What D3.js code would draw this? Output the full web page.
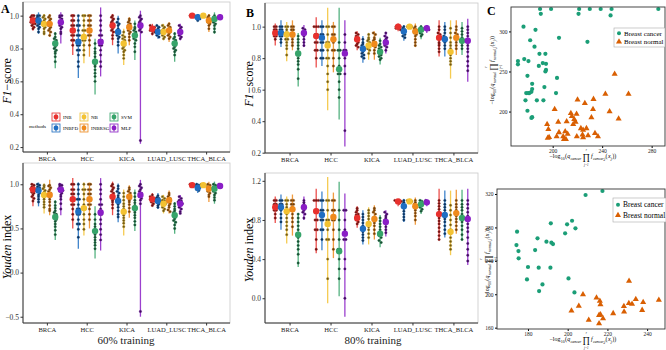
<!DOCTYPE html>
<html>
<head>
<meta charset="utf-8">
<script src="https://cdn.jsdelivr.net/npm/d3@7"></script>
<style>
  body { margin: 0; background: #fff; }
  svg { display: block; font-family: "Liberation Serif", "Times New Roman", serif; }
</style>
</head>
<body>
<div id="chart"></div>
<script>
// declare global values
const WIDTH = 666;
const HEIGHT = 350;

const categories = ["BRCA", "HCC", "KICA", "LUAD_LUSC", "THCA_BLCA"];
const methods = ["INB", "INBFD", "NB", "INBRSG", "SVM", "MLP"];
const methodColors = ["#e8302d", "#1f6ec2", "#f3c232", "#ef8a1c", "#36a46a", "#8a1ec6"];
const legendOrder = ["INB", "NB", "SVM", "INBFD", "INBRSG", "MLP"];

// ---- panel A top: F1-score, 60% training ----
const f1_60_mean = [
  [0.97, 0.97, 0.95, 0.95, 0.83, 0.96],
  [0.91, 0.84, 0.87, 0.91, 0.72, 0.84],
  [0.94, 0.90, 0.83, 0.93, 0.88, 0.94],
  [0.92, 0.90, 0.90, 0.91, 0.83, 0.90],
  [1.00, 0.99, 1.00, 0.97, 0.98, 0.99]
];
const f1_60_lo = [
  [0.91, 0.89, 0.88, 0.87, 0.68, 0.83],
  [0.76, 0.62, 0.71, 0.75, 0.52, 0.63],
  [0.82, 0.77, 0.70, 0.82, 0.73, 0.22],
  [0.88, 0.86, 0.85, 0.84, 0.72, 0.85],
  [0.995, 0.97, 0.995, 0.90, 0.89, 0.98]
];
const f1_60_hi = [
  [1.01, 1.02, 1.01, 1.01, 0.90, 1.02],
  [1.01, 1.00, 1.01, 1.01, 0.86, 1.05],
  [1.01, 1.00, 0.92, 0.99, 0.97, 1.03],
  [0.95, 0.94, 0.95, 0.96, 0.90, 0.95],
  [1.00, 1.01, 1.00, 1.01, 1.02, 1.00]
];
const f1_60_pts = [
  [[1,1,.99,.98,.98,.97,.97,.96,.95,.95,.94,.93,.92],
   [1,1,.99,.98,.97,.97,.96,.95,.94,.93,.92,.90],
   [1,.99,.98,.97,.96,.95,.95,.94,.93,.92,.90,.89],
   [1,.99,.98,.97,.96,.95,.94,.93,.92,.91,.90,.88],
   [.89,.87,.86,.85,.84,.83,.82,.81,.80,.79,.78,.77,.75,.72],
   [1,1,.99,.98,.97,.96,.95,.94,.93,.92,.90,.89]],
  [[1,1,.97,.97,.94,.94,.91,.91,.88,.88,.85,.85,.82],
   [1,.97,.94,.94,.91,.88,.88,.85,.85,.82,.82,.79,.79,.76,.72,.69],
   [1,1,.97,.94,.91,.91,.88,.85,.85,.82,.79,.76],
   [1,1,.97,.97,.94,.94,.91,.88,.88,.85,.82],
   [.83,.80,.78,.77,.75,.73,.72,.70,.69,.67,.65,.63,.60],
   [1,.97,.94,.91,.88,.88,.85,.85,.82,.82,.79,.76,.72,.69]],
  [[1,.99,.98,.97,.96,.95,.94,.93,.92,.91,.90,.88,.86],
   [.98,.96,.95,.94,.92,.91,.90,.89,.88,.87,.86,.84,.82],
   [.90,.88,.87,.86,.85,.84,.83,.82,.81,.80,.79,.78,.76,.74],
   [.98,.97,.96,.95,.94,.93,.92,.91,.90,.89,.87,.85],
   [.95,.93,.92,.91,.90,.89,.88,.87,.86,.85,.83,.81,.78],
   [1,.99,.98,.97,.96,.95,.94,.93,.92,.91,.90,.24]],
  [[.94,.93,.93,.92,.92,.91,.91,.90,.89],
   [.94,.93,.92,.91,.90,.90,.89,.88,.87],
   [.94,.93,.92,.91,.90,.89,.88,.87,.86],
   [.95,.94,.93,.92,.91,.90,.89,.88,.87,.86],
   [.89,.87,.86,.85,.84,.83,.82,.81,.80,.79,.78,.76],
   [.94,.93,.92,.91,.90,.89,.88,.87,.86]],
  [[1,1,1],
   [1,.99,.99,.98,.97],
   [1,1],
   [1,.99,.98,.97,.96,.95,.94,.92],
   [1,.99,.98,.97,.96,.95,.94,.92,.90],
   [1,.99,.99]]
];

// ---- panel A bottom: Youden index, 60% training ----
const yi_60_mean = [
  [0.94, 0.93, 0.88, 0.88, 0.63, 0.94],
  [0.83, 0.69, 0.73, 0.83, 0.47, 0.68],
  [0.86, 0.81, 0.69, 0.86, 0.73, 0.88],
  [0.83, 0.81, 0.78, 0.82, 0.65, 0.78],
  [0.99, 0.96, 0.99, 0.95, 0.95, 0.98]
];
const yi_60_lo = [
  [0.75, 0.75, 0.67, 0.65, 0.37, 0.65],
  [0.50, 0.27, 0.42, 0.50, 0.16, 0.25],
  [0.65, 0.57, 0.42, 0.62, 0.47, -0.50],
  [0.75, 0.72, 0.67, 0.67, 0.44, 0.67],
  [0.97, 0.90, 0.97, 0.80, 0.78, 0.96]
];
const yi_60_hi = [
  [1.01, 1.02, 1.01, 1.05, 0.82, 1.01],
  [1.07, 1.02, 1.02, 1.02, 0.75, 1.07],
  [1.03, 1.01, 0.94, 0.99, 0.94, 1.05],
  [0.90, 0.90, 0.88, 0.93, 0.80, 0.88],
  [1.00, 1.01, 1.00, 1.03, 1.03, 1.00]
];
const yi_60_pts = [
  [[1,.99,.97,.96,.95,.94,.93,.91,.90,.88,.86,.84,.81],
   [1,.99,.97,.96,.94,.93,.92,.90,.88,.86,.83,.80],
   [.99,.97,.95,.93,.91,.89,.87,.85,.83,.80,.77,.74],
   [.99,.98,.96,.94,.92,.90,.88,.86,.83,.80,.76,.72,.70],
   [.80,.76,.73,.70,.68,.66,.64,.62,.60,.58,.55,.52,.48,.43],
   [1,.99,.98,.96,.95,.94,.93,.92,.90,.88,.86,.83,.78,.72]],
  [[1,1,.94,.94,.89,.89,.83,.83,.77,.77,.72,.66,.60],
   [1,.94,.89,.83,.83,.77,.72,.72,.66,.66,.60,.55,.55,.49,.40],
   [1,.94,.94,.89,.83,.77,.72,.72,.66,.60,.55,.49],
   [1,1,.94,.94,.89,.89,.83,.77,.77,.72,.66,.60],
   [.66,.60,.55,.52,.49,.46,.43,.40,.37,.34,.31,.27],
   [1,.94,.89,.83,.77,.77,.72,.66,.66,.60,.55,.49,.43,.37]],
  [[1,.98,.96,.94,.92,.90,.88,.86,.84,.82,.80,.77,.73],
   [.98,.95,.92,.90,.87,.85,.82,.80,.77,.74,.70,.66,.63],
   [.90,.86,.82,.78,.75,.72,.70,.68,.65,.62,.59,.56,.52],
   [.96,.94,.92,.90,.88,.86,.84,.82,.80,.77,.73,.69],
   [.90,.86,.82,.79,.76,.74,.72,.70,.68,.65,.62,.58,.54],
   [1,.98,.96,.94,.92,.90,.88,.86,.84,.82,.78,-.44]],
  [[.88,.86,.85,.84,.83,.82,.81,.80,.78,.76],
   [.87,.85,.84,.83,.82,.81,.80,.78,.76,.74],
   [.86,.84,.82,.81,.80,.79,.78,.76,.74,.72,.70],
   [.90,.88,.86,.84,.83,.82,.80,.78,.76,.74,.71,.69],
   [.78,.75,.72,.70,.68,.66,.65,.63,.61,.59,.57,.54,.50],
   [.86,.84,.82,.81,.80,.79,.78,.76,.74,.72,.69,.67]],
  [[1,1,.99],
   [1,.99,.98,.97,.96,.94,.93],
   [1,1,.99],
   [1,.99,.97,.96,.94,.92,.90,.88,.86],
   [1,.99,.97,.96,.94,.92,.90,.88,.85,.82],
   [1,.99,.98,.97]]
];

// ---- panel B top: F1-score, 80% training ----
const f1_80_mean = [
  [0.96, 0.96, 0.95, 0.95, 0.83, 0.96],
  [0.94, 0.93, 0.88, 0.92, 0.73, 0.83],
  [0.92, 0.86, 0.88, 0.89, 0.84, 0.90],
  [1.00, 0.97, 1.00, 0.97, 0.98, 0.99],
  [0.93, 0.92, 0.84, 0.93, 0.91, 0.91]
];
const f1_80_lo = [
  [0.88, 0.87, 0.78, 0.85, 0.62, 0.87],
  [0.74, 0.75, 0.47, 0.71, 0.41, 0.24],
  [0.85, 0.77, 0.79, 0.79, 0.76, 0.83],
  [0.97, 0.91, 0.99, 0.87, 0.92, 0.96],
  [0.81, 0.81, 0.67, 0.82, 0.82, 0.65]
];
const f1_80_hi = [
  [1.02, 1.04, 1.03, 1.04, 0.96, 1.01],
  [1.06, 1.04, 1.12, 1.03, 1.12, 1.04],
  [0.97, 0.94, 0.96, 0.97, 0.93, 0.96],
  [1.02, 1.01, 1.01, 1.02, 1.01, 1.01],
  [1.04, 1.03, 1.04, 1.04, 1.03, 1.05]
];
const f1_80_pts = [
  [[1,1,.98,.98,.96,.96,.94,.94,.92],
   [1,1,.98,.98,.96,.96,.94,.94,.92,.90],
   [1,1,.98,.96,.96,.94,.92,.92,.90,.88,.86,.82],
   [1,1,.98,.98,.96,.94,.94,.92,.90,.88],
   [.94,.92,.90,.88,.86,.84,.82,.82,.80,.78,.76,.73,.67],
   [.99,.98,.96,.96,.94,.92,.90,.88]],
  [[1,1,1,.95,.95,.90,.90,.85,.85,.80],
   [1,1,.95,.95,.90,.90,.85,.85,.80,.80],
   [1,1,.95,.90,.90,.85,.80,.80,.75,.70,.65,.60],
   [1,1,.95,.95,.90,.85,.85,.80,.75],
   [.90,.85,.85,.80,.75,.70,.70,.65,.60,.55],
   [.95,.90,.85,.85,.80,.75,.70,.34]],
  [[.96,.95,.94,.93,.92,.91,.90,.89,.88,.87],
   [.92,.90,.89,.88,.87,.86,.85,.84,.83,.82,.81,.80],
   [.95,.93,.92,.91,.90,.89,.88,.87,.86,.85,.83],
   [.96,.95,.93,.92,.91,.90,.89,.88,.87,.85,.83],
   [.91,.89,.88,.87,.86,.85,.84,.83,.82,.81,.80,.79],
   [.96,.94,.93,.92,.91,.90,.89,.88,.87,.85]],
  [[1,1,1,.99,.99,.98],
   [1,.99,.98,.97,.96,.95,.94,.93],
   [1,1,1],
   [1,.99,.98,.97,.96,.95,.94,.92,.90,.88],
   [1,.99,.98,.97,.96,.95,.94],
   [1,.99,.98,.98]],
  [[1,.98,.96,.95,.94,.92,.90,.89,.88,.86,.84],
   [1,.98,.96,.94,.93,.92,.90,.88,.86],
   [.99,.96,.93,.90,.88,.86,.84,.82,.80,.78,.76],
   [1,.98,.96,.95,.94,.92,.90,.88,.86],
   [.99,.97,.95,.93,.92,.90,.88,.86],
   [1,.98,.96,.94,.92,.90,.88,.86,.84,.81,.78,.75,.72]]
];

// ---- panel B bottom: Youden index, 80% training ----
const yi_80_mean = [
  [0.93, 0.93, 0.89, 0.91, 0.65, 0.93],
  [0.89, 0.85, 0.76, 0.83, 0.48, 0.66],
  [0.82, 0.71, 0.76, 0.81, 0.66, 0.78],
  [0.99, 0.94, 0.99, 0.94, 0.96, 0.98],
  [0.86, 0.85, 0.68, 0.87, 0.82, 0.81]
];
const yi_80_lo = [
  [0.77, 0.70, 0.56, 0.64, 0.32, 0.80],
  [0.46, 0.49, -0.05, 0.41, 0.02, -0.19],
  [0.72, 0.55, 0.55, 0.60, 0.52, 0.63],
  [0.94, 0.78, 0.97, 0.75, 0.86, 0.94],
  [0.61, 0.62, 0.44, 0.66, 0.60, 0.34]
];
const yi_80_hi = [
  [1.04, 1.06, 1.04, 1.06, 0.87, 1.04],
  [1.12, 1.09, 1.24, 1.08, 1.19, 1.07],
  [0.94, 0.90, 0.93, 0.95, 0.85, 0.90],
  [1.01, 1.01, 1.01, 1.03, 1.01, 1.01],
  [1.12, 1.10, 1.10, 1.11, 1.11, 1.12]
];
const yi_80_pts = [
  [[1,1,.96,.96,.93,.90,.90,.86,.82],
   [1,1,.96,.96,.93,.90,.86,.82,.78],
   [1,1,.96,.93,.90,.86,.82,.78,.74,.70,.65],
   [1,1,.96,.96,.93,.90,.86,.82,.78,.73],
   [.86,.82,.78,.74,.70,.66,.62,.58,.54,.50,.45,.36],
   [1,.98,.96,.93,.90,.88,.86,.82]],
  [[1,1,1,.9,.9,.8,.8,.7,.7,.6,.5],
   [1,1,.9,.9,.8,.8,.7,.7,.6],
   [1,1,.9,.8,.8,.7,.6,.6,.4,.2],
   [1,1,.9,.9,.8,.8,.7,.6,.5],
   [.9,.8,.7,.6,.5,.5,.4,.3,.2],
   [.9,.9,.8,.7,.6,.6,.4,.3,0]],
  [[.92,.90,.88,.86,.85,.84,.82,.80,.78,.76],
   [.86,.83,.80,.77,.74,.71,.68,.65,.62,.59],
   [.90,.87,.84,.81,.78,.76,.73,.70,.66,.62],
   [.92,.90,.88,.86,.83,.80,.77,.74,.70,.66],
   [.82,.79,.76,.73,.70,.68,.66,.64,.62,.59,.57],
   [.88,.86,.84,.82,.80,.78,.76,.73,.70,.67]],
  [[1,1,1,.99,.98,.97],
   [1,.98,.96,.94,.92,.89,.86,.83,.80],
   [1,1,.99],
   [1,.98,.96,.94,.92,.90,.87,.84,.80],
   [1,.99,.97,.95,.93,.91,.89],
   [1,.99,.98,.97]],
  [[1,.97,.94,.91,.88,.85,.82,.79,.76,.72,.68,.64,.60],
   [1,.96,.93,.90,.87,.84,.81,.78,.74,.70,.66],
   [.95,.90,.85,.80,.75,.70,.66,.62,.58,.54,.50],
   [1,.96,.93,.90,.87,.84,.81,.78,.74,.70],
   [1,.96,.93,.90,.86,.82,.78,.74,.70,.65,.60],
   [1,.96,.92,.88,.84,.80,.76,.72,.68,.62,.56,.50,.44,.38]]
];

// ---- panel C: scatter of the two log scores ----
const c1_cancer = [
  [189.8,328],[190.4,322],[198.7,328],[221.4,328],[220.9,322],[230,328],[238.8,328],[247.6,328],[246.8,320],[285.4,328],
  [176.4,306],[186.1,302],[181.8,289],[205.1,292],[228.1,287],[185.3,281],[189.3,272],[194.1,272],[177,265.5],[180.4,263],
  [171.9,263],[171.9,259],[192,260.5],[194.6,259.6],[188.8,257],[194.6,252],[194.1,250],[179.6,244.6],[203.5,242],[183.4,234.6],
  [183.4,228],[193.3,230.5],[180.2,223],[178.6,223],[181.2,223],[182.8,224.6],[202.7,223],[187.2,214],[178,214],[192.5,214],
  [179.6,201],[183.4,193],[182.8,192]
];
const c1_normal = [
  [250.1,247],[261.3,222],[242.6,222],[233,215.5],[201.6,203],[220.1,214.6],[226,210.5],[232.6,203],[246,200],[253.3,191],
  [214.7,198],[219.3,197],[231.3,192.5],[195.5,184],[204.5,187],[211.3,187.5],[215.5,194],[217.4,190.5],[218.5,187],[216.6,184],
  [196.5,178],[205.1,174],[210.1,175],[212.1,172],[203.2,169],[208.5,169],[222.8,179],[224.6,177],[227.3,179],[234.2,173],
  [219.5,169],[224.1,171],[228.6,170],[236.6,169],[196,167],[197.1,168],[209.1,165.5],[210.7,165.5],[224.6,167.5]
];
const c2_cancer = [
  [217.5,323.6],[209,318.8],[174.5,274.9],[191.5,284.9],[199.7,283.7],[202.2,288],[203.9,278.9],[198.7,272.9],[174.2,258.9],[175.2,251.7],
  [175.3,243],[184.8,266.9],[183.6,252.9],[189.3,262.9],[191.8,261.7],[192.6,260.1],[180,232.6],[185.4,231.8],[191.3,231.8],[179.5,217.8],
  [200.4,219],[187.3,211.8],[185.6,203.8],[203.4,202.2]
];
const c2_normal = [
  [207.7,199.8],[214.5,195.8],[230.9,215.8],[201.9,180.2],[205.6,185.8],[216.2,191.8],[216.5,187.8],[215.8,175],[216.5,175.8],[217.8,171.1],
  [210.6,169.1],[215.8,165.1],[222.9,177.1],[228.3,185.5],[228.4,179],[230.8,189.1],[232.4,188.2],[234.3,193.9],[238,190.3],[237.5,181],
  [245.9,193]
];
const groupLabels = ["Breast cancer", "Breast normal"];
const groupColors = ["#1b9e77", "#d95f02"];

const svg = d3
  .select("#chart")
  .append("svg")
  .attr("width", WIDTH)
  .attr("height", HEIGHT);

// d3 axes put a sans-serif font on their group; drop it so the serif face is inherited
const serifAxis = (a, fs, col) => {
  a.attr("font-family", null).attr("font-size", null);
  a.selectAll(".tick text").attr("font-size", fs).attr("fill", col);
};

// draw one strip panel (points + range line + mean dot per method)
const drawStrip = (o) => {
  const g = svg.append("g");
  const x = d3.scalePoint().domain(categories).range([o.x0, o.x1]).padding(0.6);
  const y = d3.scaleLinear().domain(o.domain).range([o.y1, o.y0]);
  const dodge = x.step() * 0.14;

  // panel border
  g.append("rect")
    .attr("x", o.x0).attr("y", o.y0)
    .attr("width", o.x1 - o.x0).attr("height", o.y1 - o.y0)
    .attr("fill", "none").attr("stroke", "#c8c8c8").attr("stroke-width", 0.8);

  categories.forEach((c, ci) => {
    methods.forEach((m, mi) => {
      const cx = x(c) + (mi - 2.5) * dodge;
      const col = methodColors[mi];
      g.append("line")
        .attr("x1", cx).attr("x2", cx)
        .attr("y1", y(o.lo[ci][mi])).attr("y2", y(o.hi[ci][mi]))
        .attr("stroke", col).attr("stroke-opacity", 0.85).attr("stroke-width", 1.3);

      // dot-plot style: stack points falling in the same pixel bin
      const bins = d3.group(o.pts[ci][mi], (v) => Math.round(y(v) / 2.6));
      const dark = d3.interpolateRgb(col, "#000")(0.55);
      bins.forEach((vals) => {
        vals.forEach((v, k) => {
          g.append("circle")
            .attr("cx", cx + (k - (vals.length - 1) / 2) * 2.2)
            .attr("cy", y(v))
            .attr("r", 1.2)
            .attr("fill", dark)
            .attr("stroke", d3.interpolateRgb(col, "#000")(0.25))
            .attr("stroke-width", 0.4);
        });
      });
    });
  });
  // mean dots on top
  categories.forEach((c, ci) => {
    methods.forEach((m, mi) => {
      g.append("circle")
        .attr("cx", x(c) + (mi - 2.5) * dodge)
        .attr("cy", y(o.mean[ci][mi]))
        .attr("r", 3.2)
        .attr("fill", methodColors[mi]);
    });
  });

  // axes
  g.append("g")
    .attr("transform", `translate(${o.x0},0)`)
    .call(d3.axisLeft(y).tickValues(o.ticks).tickFormat(o.fmt).tickSize(2.5).tickPadding(1.5))
    .call((a) => a.select(".domain").attr("stroke", "#333").attr("d", `M0,${o.y0}V${o.y1}`))
    .call((a) => a.selectAll(".tick line").attr("stroke", "#333"))
    .call((a) => serifAxis(a, 7.5, "#333"));
  g.append("g")
    .attr("transform", `translate(0,${o.y1})`)
    .call(d3.axisBottom(x).tickSize(2.5).tickPadding(2))
    .call((a) => a.select(".domain").attr("stroke", "#333").attr("d", `M${o.x0},0H${o.x1}`))
    .call((a) => a.selectAll(".tick line").attr("stroke", "#333"))
    .call((a) => serifAxis(a, 6.6, "#222"));

  // y title
  const t = g.append("text")
    .attr("transform", `translate(${o.titleX},${(o.y0 + o.y1) / 2 + o.titleDy}) rotate(-90)`)
    .attr("text-anchor", "middle")
    .attr("font-size", 12);
  t.append("tspan").attr("font-style", "italic").text(o.titleIt);
  t.append("tspan").text(o.titleRest);
  return { x, y };
};

const f2 = d3.format(".1f");

drawStrip({ x0: 23, x1: 230, y0: 2, y1: 152, domain: [0.17, 1.083], ticks: [0.2, 0.4, 0.6, 0.8, 1.0], fmt: f2,
  mean: f1_60_mean, lo: f1_60_lo, hi: f1_60_hi, pts: f1_60_pts, titleX: 11, titleDy: 4, titleIt: "F1", titleRest: "\u2212score" });
drawStrip({ x0: 23, x1: 230, y0: 163, y1: 323, domain: [-0.571, 1.241], ticks: [-0.5, 0, 0.5, 1.0], fmt: f2,
  mean: yi_60_mean, lo: yi_60_lo, hi: yi_60_hi, pts: yi_60_pts, titleX: 11, titleDy: 4, titleIt: "Youden", titleRest: " index" });
drawStrip({ x0: 265, x1: 478, y0: 3, y1: 153, domain: [0.198, 1.15], ticks: [0.2, 0.4, 0.6, 0.8, 1.0], fmt: f2,
  mean: f1_80_mean, lo: f1_80_lo, hi: f1_80_hi, pts: f1_80_pts, titleX: 253, titleDy: 6, titleIt: "F1", titleRest: "\u2212score" });
drawStrip({ x0: 265, x1: 478, y0: 173, y1: 323, domain: [-0.253, 1.28], ticks: [0, 0.4, 0.8, 1.2], fmt: f2,
  mean: yi_80_mean, lo: yi_80_lo, hi: yi_80_hi, pts: yi_80_pts, titleX: 253, titleDy: 2, titleIt: "Youden", titleRest: " index" });

// x titles for A and B
svg.append("text").attr("x", 126).attr("y", 344).attr("text-anchor", "middle")
  .attr("font-size", 11).attr("fill", "#222").text("60% training");
svg.append("text").attr("x", 373).attr("y", 344).attr("text-anchor", "middle")
  .attr("font-size", 11).attr("fill", "#222").text("80% training");

// legend of methods inside panel A
const leg = svg.append("g").attr("font-size", 5);
leg.append("text").attr("x", 29).attr("y", 128).text("methods");
legendOrder.forEach((m, i) => {
  const mi = methods.indexOf(m);
  const col = methodColors[mi];
  const lx = [52, 80, 110][i % 3];
  const ly = i < 3 ? 113 : 124;
  leg.append("rect").attr("x", lx).attr("y", ly).attr("width", 8).attr("height", 8)
    .attr("fill", "#f7f7f7").attr("stroke", col).attr("stroke-width", 0.8);
  leg.append("line").attr("x1", lx + 4).attr("x2", lx + 4).attr("y1", ly + 0.5).attr("y2", ly + 7.5)
    .attr("stroke", col).attr("stroke-width", 0.9);
  leg.append("circle").attr("cx", lx + 4).attr("cy", ly + 4).attr("r", 2.4).attr("fill", col);
  leg.append("text").attr("x", lx + 11).attr("y", ly + 5.8).text(m);
});

// panel letters
[["A", 1, 13], ["B", 246, 17], ["C", 487, 15]].forEach((p) => {
  svg.append("text").attr("x", p[1]).attr("y", p[2]).attr("font-size", 12)
    .attr("font-weight", "bold").text(p[0]);
});

// math-style axis label built piece by piece
const mathLabel = (g, which, fs) => {
  const parts = [
    { t: "\u2212log" }, { t: "10", sub: true }, { t: "(" }, { t: "q", it: true }, { t: which, sub: true, it: true },
    { prod: true }, { t: "f", it: true }, { t: which + ",j", sub: true, it: true }, { t: "(" }, { t: "x", it: true },
    { t: "j", sub: true, it: true }, { t: "))" }
  ];
  let px = 0;
  parts.forEach((p) => {
    if (p.prod) {
      const w = fs * 1.1;
      const mid = px + 1.5 + w / 2;
      g.append("text").attr("x", mid).attr("y", fs * 0.3).attr("text-anchor", "middle")
        .attr("font-size", fs * 1.5).text("\u220F");
      g.append("text").attr("x", mid).attr("y", -fs * 1.1).attr("text-anchor", "middle")
        .attr("font-size", fs * 0.5).attr("font-style", "italic").text("r");
      g.append("text").attr("x", mid).attr("y", fs * 1.3).attr("text-anchor", "middle")
        .attr("font-size", fs * 0.5).attr("font-style", "italic").text("j=1");
      px += w + 3;
    } else {
      const t = g.append("text").attr("x", px).attr("y", p.sub ? fs * 0.35 : 0)
        .attr("font-size", p.sub ? fs * 0.65 : fs)
        .attr("font-style", p.it ? "italic" : null).text(p.t);
      px += t.node().getComputedTextLength() + 0.3;
    }
  });
  return px;
};

const drawScatter = (o) => {
  const g = svg.append("g");
  const x = d3.scaleLinear().domain(o.xd).range([o.x0, o.x1]);
  const y = d3.scaleLinear().domain(o.yd).range([o.y1, o.y0]);

  g.append("g").attr("transform", `translate(0,${o.y1})`)
    .call(d3.axisBottom(x).tickValues(o.xt).tickSize(2).tickPadding(1))
    .call((a) => a.select(".domain").remove())
    .call((a) => serifAxis(a, 5.5, "#222"));
  g.append("g").attr("transform", `translate(${o.x0},0)`)
    .call(d3.axisLeft(y).tickValues(o.yt).tickSize(2).tickPadding(1.5))
    .call((a) => a.select(".domain").remove())
    .call((a) => serifAxis(a, 5.5, "#222"));

  o.cancer.forEach((d) => {
    g.append("circle").attr("cx", x(d[0])).attr("cy", y(d[1])).attr("r", 2.1).attr("fill", groupColors[0]);
  });
  const tri = d3.symbol().type(d3.symbolTriangle).size(16);
  o.normal.forEach((d) => {
    g.append("path").attr("transform", `translate(${x(d[0])},${y(d[1])})`).attr("d", tri).attr("fill", groupColors[1]);
  });

  g.append("rect").attr("x", o.x0).attr("y", o.y0).attr("width", o.x1 - o.x0).attr("height", o.y1 - o.y0)
    .attr("fill", "none").attr("stroke", "#333").attr("stroke-width", 0.9);

  // legend
  const L = o.leg;
  g.append("rect").attr("x", L[0]).attr("y", L[1]).attr("width", L[2]).attr("height", L[3])
    .attr("fill", "#fff").attr("stroke", "#aaa").attr("stroke-width", 0.6);
  groupLabels.forEach((lab, i) => {
    const ly = L[1] + L[3] * (i === 0 ? 0.28 : 0.72);
    if (i === 0) {
      g.append("circle").attr("cx", L[0] + 5).attr("cy", ly).attr("r", 2).attr("fill", groupColors[0]);
    } else {
      g.append("path").attr("transform", `translate(${L[0] + 5},${ly})`).attr("d", tri).attr("fill", groupColors[1]);
    }
    g.append("text").attr("x", L[0] + 10).attr("y", ly + 2.5).attr("font-size", o.lfs).text(lab);
  });

  // axis labels
  const xl = g.append("g");
  const w1 = mathLabel(xl, "cancer", 6);
  xl.attr("transform", `translate(${(o.x0 + o.x1) / 2 - w1 / 2 + o.xlDx},${o.xlY})`);
  const yl = g.append("g");
  const w2 = mathLabel(yl, "normal", 6);
  yl.attr("transform", `translate(${o.ylX},${o.ylC + w2 / 2}) rotate(-90)`);
};

drawScatter({ x0: 511, x1: 665, y0: 7, y1: 146, xd: [166.3, 290.8], yd: [157, 330.5],
  xt: [200, 240, 280], yt: [200, 250, 300], cancer: c1_cancer, normal: c1_normal,
  leg: [614, 28, 51, 19], lfs: 7, xlY: 158, xlDx: -5, ylX: 494, ylC: 70 });
drawScatter({ x0: 497, x1: 665, y0: 189, y1: 329, xd: [164.4, 249], yd: [158.4, 326],
  xt: [180, 200, 220, 240], yt: [160, 200, 240, 280, 320], cancer: c2_cancer, normal: c2_normal,
  leg: [613, 198, 53, 24], lfs: 7.5, xlY: 341, xlDx: 2, ylX: 489, ylC: 262 });
</script>
</body>
</html>
